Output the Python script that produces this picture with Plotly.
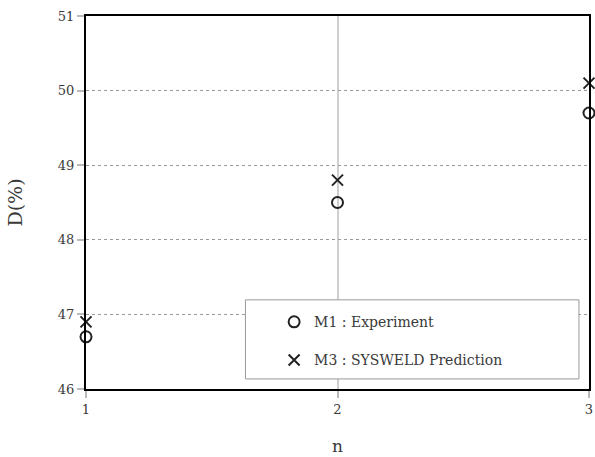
import plotly.graph_objects as go

# Measured D(%) values at each n
n_values = [1, 2, 3]
d_experiment = [46.7, 48.5, 49.7]
d_sysweld = [46.9, 48.8, 50.1]
y_ticks = [46, 47, 48, 49, 50, 51]
x_ticks = [1, 2, 3]

FONT = "DejaVu Serif, Liberation Serif, serif"
TEXT = "#3a3a3a"

fig = go.Figure()
fig.add_trace(go.Scatter(
    x=n_values, y=d_experiment, mode="markers", name="M1 : Experiment",
    legendgroup="m1",
    marker=dict(symbol="circle-open", size=11, color="#222",
                line=dict(width=2, color="#222")),
    cliponaxis=False,
))
fig.add_trace(go.Scatter(
    x=n_values, y=d_sysweld, mode="markers", name="M3 : SYSWELD Prediction",
    legendgroup="m3",
    marker=dict(symbol="x-thin-open", size=11, color="#222",
                line=dict(width=2, color="#222")),
    cliponaxis=False,
))

# legend frame
fig.add_shape(type="rect", xref="paper", yref="paper",
              x0=0.317, x1=0.98, y0=0.027, y1=0.239,
              line=dict(color="#999", width=1), fillcolor="white", layer="above")

fig.update_layout(
    width=595, height=457,
    margin=dict(l=86, r=2, t=16, b=68),
    plot_bgcolor="white", paper_bgcolor="white",
    font=dict(family=FONT, size=13, color=TEXT),
    showlegend=True,
    legend=dict(x=0.374, y=0.222, xanchor="left", yanchor="top",
                bgcolor="rgba(0,0,0,0)", borderwidth=0,
                font=dict(family=FONT, size=14, color=TEXT),
                tracegroupgap=17, traceorder="grouped", itemwidth=30),
    xaxis=dict(
        range=[1, 3], tickvals=x_ticks, showline=True, mirror=True,
        linecolor="black", linewidth=2,
        showgrid=True, gridcolor="#cfcfcf", gridwidth=2,
        ticks="outside", ticklen=7, tickcolor="#bbb", tickwidth=2,
        tickfont=dict(family=FONT, size=13, color=TEXT),
        ticklabeloverflow="allow",
        zeroline=False,
        title=dict(text="n", font=dict(family=FONT, size=17, color=TEXT), standoff=25),
    ),
    yaxis=dict(
        range=[46, 51], tickvals=y_ticks, showline=True, mirror=True,
        linecolor="black", linewidth=2,
        showgrid=True, gridcolor="#999", gridwidth=1, griddash="dot",
        ticks="outside", ticklen=7, tickcolor="#bbb", tickwidth=2,
        tickfont=dict(family=FONT, size=13, color=TEXT),
        zeroline=False,
        title=dict(text="D(%)", font=dict(family=FONT, size=19, color=TEXT), standoff=30),
    ),
)

fig.write_html("out.html")
